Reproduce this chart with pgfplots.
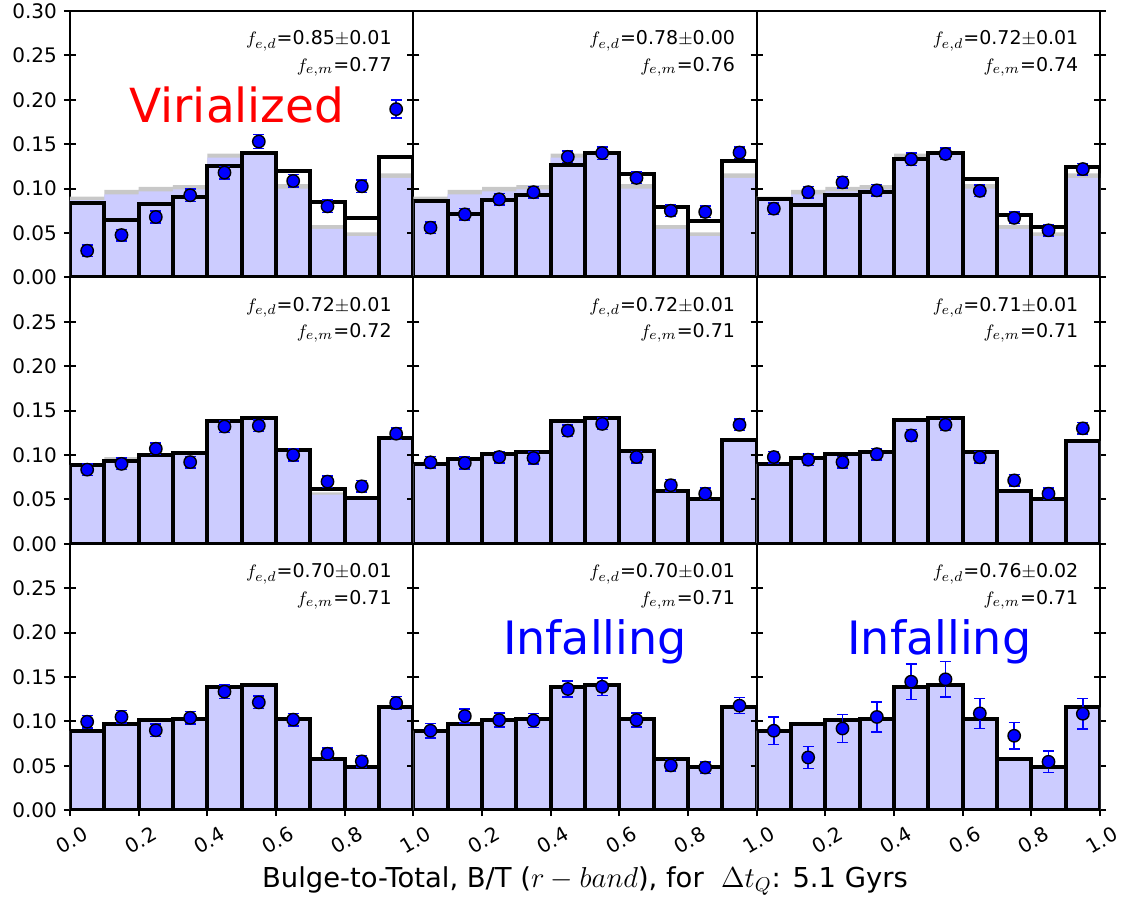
\documentclass[border=0pt]{standalone}
\usepackage{fontspec}
\setmainfont{DejaVu Sans}
\usepackage{pgfplots}
\usepgfplotslibrary{groupplots}
\usepackage{pgfplotstable}
\pgfplotsset{compat=1.18}

\definecolor{bluefill}{RGB}{204,204,255}
\definecolor{graybar}{RGB}{200,200,200}
\definecolor{ptblue}{RGB}{0,0,255}

% columns: bin centre, model (black), stacked fill (blue), reference fill (gray), data point, error
\pgfplotstableread{
x K B G P E
0.05 0.084 0.087 0.091 0.030 0.0065
0.15 0.0647 0.0936 0.0985 0.0477 0.0065
0.25 0.083 0.097 0.102 0.068 0.0065
0.35 0.090 0.099 0.104 0.0925 0.007
0.45 0.125 0.135 0.1395 0.118 0.007
0.55 0.140 0.139 0.140 0.153 0.008
0.65 0.120 0.100 0.105 0.1086 0.007
0.75 0.085 0.0545 0.059 0.080 0.007
0.85 0.0665 0.0466 0.0508 0.1026 0.007
0.95 0.136 0.112 0.117 0.1895 0.010
}\rAa
\pgfplotstableread{
x K B G P E
0.05 0.086 0.087 0.091 0.056 0.0065
0.15 0.071 0.0936 0.0985 0.071 0.0065
0.25 0.087 0.097 0.102 0.088 0.0065
0.35 0.093 0.099 0.104 0.096 0.0065
0.45 0.127 0.135 0.1395 0.1357 0.0065
0.55 0.1406 0.139 0.140 0.140 0.007
0.65 0.1165 0.100 0.105 0.112 0.0065
0.75 0.079 0.0545 0.059 0.075 0.0065
0.85 0.0635 0.0466 0.0508 0.0737 0.0065
0.95 0.1316 0.112 0.117 0.1406 0.0065
}\rAb
\pgfplotstableread{
x K B G P E
0.05 0.088 0.087 0.091 0.0774 0.0065
0.15 0.082 0.0936 0.0985 0.096 0.0065
0.25 0.0925 0.097 0.102 0.107 0.0065
0.35 0.0966 0.099 0.104 0.098 0.0065
0.45 0.133 0.135 0.1395 0.133 0.007
0.55 0.1406 0.139 0.140 0.139 0.0065
0.65 0.1105 0.100 0.105 0.0974 0.0065
0.75 0.0707 0.0545 0.059 0.067 0.0065
0.85 0.057 0.0466 0.0508 0.053 0.0065
0.95 0.1248 0.112 0.117 0.122 0.0065
}\rAc
\pgfplotstableread{
x K B G P E
0.05 0.089 0.089 0.089 0.0835 0.0065
0.15 0.093 0.093 0.0977 0.090 0.0065
0.25 0.100 0.100 0.100 0.107 0.0065
0.35 0.102 0.102 0.102 0.092 0.0065
0.45 0.138 0.138 0.140 0.132 0.0065
0.55 0.1417 0.1417 0.1417 0.133 0.0065
0.65 0.106 0.106 0.106 0.100 0.0065
0.75 0.062 0.0555 0.058 0.070 0.0065
0.85 0.052 0.052 0.052 0.0647 0.0065
0.95 0.119 0.119 0.119 0.124 0.0065
}\rBa
\pgfplotstableread{
x K B G P E
0.05 0.090 0.090 0.090 0.0917 0.0065
0.15 0.096 0.096 0.096 0.091 0.0065
0.25 0.101 0.101 0.101 0.0977 0.0065
0.35 0.103 0.103 0.103 0.0966 0.0065
0.45 0.138 0.138 0.138 0.1274 0.0065
0.55 0.1417 0.1417 0.1417 0.135 0.0065
0.65 0.104 0.104 0.104 0.0977 0.0065
0.75 0.059 0.059 0.059 0.066 0.0065
0.85 0.050 0.050 0.050 0.0564 0.0065
0.95 0.1165 0.1165 0.1165 0.134 0.0065
}\rBb
\pgfplotstableread{
x K B G P E
0.05 0.090 0.090 0.090 0.0977 0.0065
0.15 0.097 0.097 0.097 0.0947 0.0065
0.25 0.1015 0.1015 0.1015 0.092 0.0065
0.35 0.103 0.103 0.103 0.101 0.0065
0.45 0.139 0.139 0.139 0.122 0.0065
0.55 0.1417 0.1417 0.1417 0.134 0.0065
0.65 0.1038 0.1038 0.1038 0.0974 0.0065
0.75 0.059 0.059 0.059 0.0714 0.0065
0.85 0.050 0.050 0.050 0.0564 0.0065
0.95 0.116 0.116 0.116 0.130 0.0065
}\rBc
\pgfplotstableread{
x K B G P E
0.05 0.0895 0.0895 0.0895 0.0996 0.007
0.15 0.097 0.097 0.097 0.105 0.007
0.25 0.1015 0.1015 0.1015 0.090 0.007
0.35 0.1026 0.1026 0.1026 0.104 0.007
0.45 0.139 0.139 0.139 0.1335 0.0075
0.55 0.141 0.141 0.141 0.1214 0.007
0.65 0.103 0.103 0.103 0.102 0.007
0.75 0.0575 0.0575 0.0575 0.0635 0.0065
0.85 0.0489 0.0489 0.0489 0.055 0.0065
0.95 0.1158 0.1158 0.1158 0.1207 0.0075
}\rCa
\pgfplotstableread{
x K B G P E
0.05 0.0895 0.0895 0.0895 0.0895 0.008
0.15 0.097 0.097 0.097 0.106 0.008
0.25 0.1015 0.1015 0.1015 0.1015 0.008
0.35 0.1026 0.1026 0.1026 0.101 0.008
0.45 0.139 0.139 0.139 0.1365 0.009
0.55 0.141 0.141 0.141 0.139 0.010
0.65 0.103 0.103 0.103 0.1015 0.008
0.75 0.0575 0.0575 0.0575 0.0504 0.0065
0.85 0.0489 0.0489 0.0489 0.048 0.0065
0.95 0.1158 0.1158 0.1158 0.1177 0.009
}\rCb
\pgfplotstableread{
x K B G P E
0.05 0.0895 0.0895 0.0895 0.0895 0.0156
0.15 0.097 0.097 0.097 0.0594 0.0126
0.25 0.1015 0.1015 0.1015 0.092 0.016
0.35 0.1026 0.1026 0.1026 0.105 0.017
0.45 0.139 0.139 0.139 0.1447 0.020
0.55 0.141 0.141 0.141 0.1474 0.020
0.65 0.103 0.103 0.103 0.109 0.017
0.75 0.0575 0.0575 0.0575 0.0838 0.015
0.85 0.0489 0.0489 0.0489 0.0545 0.012
0.95 0.1158 0.1158 0.1158 0.1086 0.017
}\rCc

\newcommand{\fsmall}{\fontsize{9.5}{11}\selectfont}
\newcommand{\ftick}{\fontsize{10}{12}\selectfont}

% one panel: gray and blue filled histograms, black outlined histogram,
% data points, then their error bars on top
\newcommand{\histpanel}[1]{%
  \addplot[ybar, bar shift=0pt, bar width=0.1, fill=graybar, draw=none] table[x=x, y=G] {#1};
  \addplot[ybar, bar shift=0pt, bar width=0.1, fill=bluefill, draw=none] table[x=x, y=B] {#1};
  \addplot[ybar, bar shift=0pt, bar width=0.1, draw=black, line width=2pt, fill=none] table[x=x, y=K] {#1};
  \addplot[only marks, mark=*, mark size=3.1pt,
    mark options={draw=black, fill=ptblue, line width=0.7pt}]
    table[x=x, y=P] {#1};
  \addplot[draw=none, mark=none,
    error bars/.cd, y dir=both, y explicit,
    error bar style={draw=ptblue, line width=0.75pt},
    error mark options={rotate=90, draw=ptblue, fill=ptblue, mark size=2.8pt, line width=0.75pt}]
    table[x=x, y=P, y error=E] {#1};
}
\newcommand{\fracs}[2]{%
  \node[anchor=base east, font=\fsmall, inner sep=0pt] at (axis cs:0.938,0.262) {$f_{e,d}$=#1};
  \node[anchor=base east, font=\fsmall, inner sep=0pt] at (axis cs:0.938,0.232) {$f_{e,m}$=#2};
}

\begin{document}
\begin{tikzpicture}
\begin{groupplot}[
  group style={group size=3 by 3, horizontal sep=0pt, vertical sep=0pt, group name=group},
  width=171.67pt, height=133.2pt, scale only axis,
  xmin=0, xmax=1, ymin=0, ymax=0.3,
  axis line style={line width=1pt},
  tick align=center, major tick length=6pt,
  tick style={black, line width=1pt},
  xtick=\empty,
  ytick={0,0.05,0.1,0.15,0.2,0.25,0.3},
  yticklabels=\empty,
  tick label style={font=\ftick},
]
% top row
\nextgroupplot[yticklabels={0.00,0.05,0.10,0.15,0.20,0.25,0.30}]
\histpanel{\rAa}
\fracs{0.85$\pm$0.01}{0.77}
\node[anchor=base, font=\fontsize{23.5}{28}\selectfont, text=red, inner sep=0pt] at (axis cs:0.486,0.174) {Virialized};
\nextgroupplot
\histpanel{\rAb}
\fracs{0.78$\pm$0.00}{0.76}
\nextgroupplot
\histpanel{\rAc}
\fracs{0.72$\pm$0.01}{0.74}
% middle row
\nextgroupplot[ytick={0,0.05,0.1,0.15,0.2,0.25}, yticklabels={0.00,0.05,0.10,0.15,0.20,0.25}]
\histpanel{\rBa}
\fracs{0.72$\pm$0.01}{0.72}
\nextgroupplot[ytick={0,0.05,0.1,0.15,0.2,0.25}]
\histpanel{\rBb}
\fracs{0.72$\pm$0.01}{0.71}
\nextgroupplot[ytick={0,0.05,0.1,0.15,0.2,0.25}]
\histpanel{\rBc}
\fracs{0.71$\pm$0.01}{0.71}
% bottom row
\nextgroupplot[ytick={0,0.05,0.1,0.15,0.2,0.25}, yticklabels={0.00,0.05,0.10,0.15,0.20,0.25},
  xtick={0,0.2,0.4,0.6,0.8,1}, xticklabels={0.0,0.2,0.4,0.6,0.8,1.0}, xtick pos=left,
  xticklabel style={yshift=-12pt, xshift=1pt, rotate=30, anchor=center}]
\histpanel{\rCa}
\fracs{0.70$\pm$0.01}{0.71}
\nextgroupplot[ytick={0,0.05,0.1,0.15,0.2,0.25},
  xtick={0.2,0.4,0.6,0.8,1}, xticklabels={0.2,0.4,0.6,0.8,1.0}, xtick pos=left,
  xticklabel style={yshift=-12pt, xshift=1pt, rotate=30, anchor=center}]
\histpanel{\rCb}
\fracs{0.70$\pm$0.01}{0.71}
\node[anchor=base, font=\fontsize{23}{28}\selectfont, text=ptblue, inner sep=0pt] at (axis cs:0.529,0.175) {Infalling};
\nextgroupplot[ytick={0,0.05,0.1,0.15,0.2,0.25},
  xtick={0.2,0.4,0.6,0.8,1}, xticklabels={0.2,0.4,0.6,0.8,1.0}, xtick pos=left,
  xticklabel style={yshift=-12pt, xshift=1pt, rotate=30, anchor=center}]
\histpanel{\rCc}
\fracs{0.76$\pm$0.02}{0.71}
\node[anchor=base, font=\fontsize{23}{28}\selectfont, text=ptblue, inner sep=0pt] at (axis cs:0.532,0.175) {Infalling};
\end{groupplot}
\node[anchor=base, font=\fontsize{13.7}{16}\selectfont, inner sep=0pt] at ([yshift=-38.5pt]group c2r3.south)
  {Bulge-to-Total, B/T ($r-band$), for \ $\Delta t_Q$: 5.1 Gyrs};
\pgfresetboundingbox
\path ([shift={(-35pt,5.5pt)}]group c1r1.north west) rectangle ([shift={(12pt,-47pt)}]group c3r3.south east);
\end{tikzpicture}
\end{document}
